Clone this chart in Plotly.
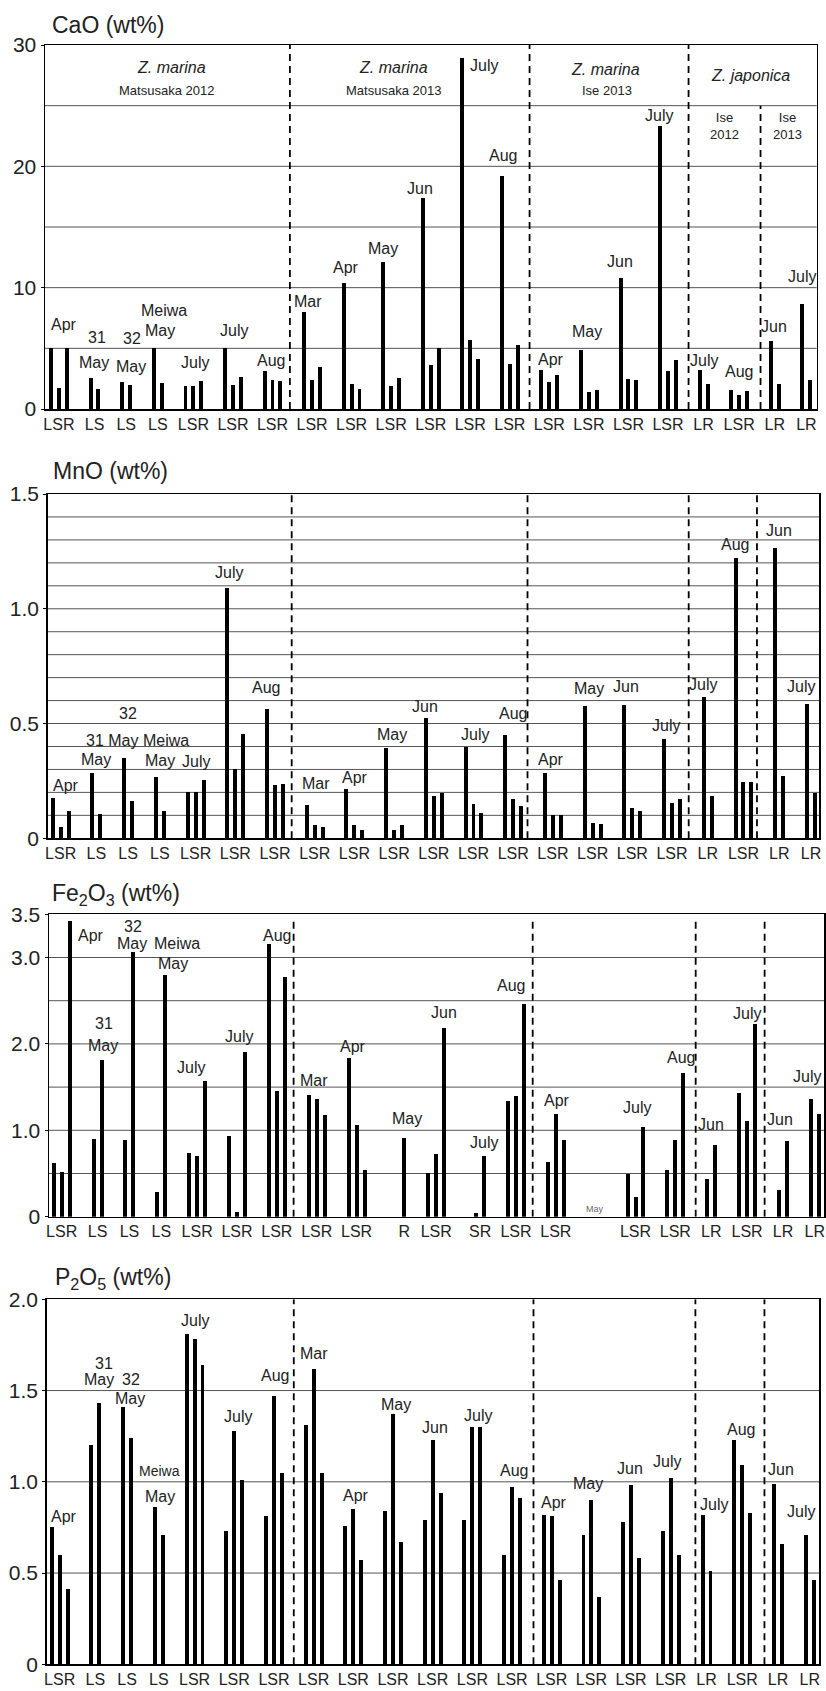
import plotly.graph_objects as go

W, H = 826, 1691
FONT = "Liberation Sans"
TXT = "#222222"

# ---------------- data ----------------
# sample groups: which tissue parts (L=leaf, S=stem, R=root) each group contains
group_parts = ["LSR", "LS", "LS", "LS", "LSR", "LSR", "LSR",
               "LSR", "LSR", "LSR", "LSR", "LSR", "LSR",
               "LSR", "LSR", "LSR", "LSR",
               "LR", "LSR", "LR", "LR"]

cao_L = [5.0, 2.58, 2.23, 5.0, 1.9, 5.0, 3.13, 8.0, 10.4, 12.1, 17.4, 28.9, 19.2,
         3.2, 4.86, 10.8, 23.3, 3.2, 1.57, 5.6, 8.66]
cao_S = [1.75, 1.67, 1.98, 2.14, 1.9, 1.98, 2.39, 2.39, 2.06, 1.9, 3.63, 5.7, 3.7,
         2.23, 1.4, 2.47, 3.13, None, 1.15, None, None]
cao_R = [5.0, None, None, None, 2.3, 2.64, 2.3, 3.46, 1.65, 2.55, 5.0, 4.1, 5.27,
         2.8, 1.57, 2.39, 4.04, 2.06, 1.48, 2.06, 2.39]

mno_L = [0.177, 0.285, 0.350, 0.267, 0.200, 1.089, 0.563, 0.145, 0.215, 0.393, 0.524,
         0.399, 0.450, 0.285, 0.576, 0.581, 0.433, 0.616, 1.221, 1.265, 0.585]
mno_S = [0.051, 0.106, 0.164, 0.119, 0.200, 0.300, 0.232, 0.058, 0.058, 0.036, 0.184,
         0.150, 0.171, 0.102, 0.067, 0.132, 0.154, None, 0.245, None, None]
mno_R = [0.119, None, None, None, 0.254, 0.454, 0.237, 0.051, 0.036, 0.058, 0.199,
         0.110, 0.141, 0.102, 0.062, 0.119, 0.171, 0.184, 0.245, 0.272, 0.199]

fe_L = [0.62, 0.90, 0.89, 0.29, 0.74, 0.93, 3.16, 1.41, 1.84, None, 0.51, None, 1.34,
        0.63, None, 0.49, 0.54, 0.44, 1.43, 0.31, 1.36]
fe_S = [0.52, 1.81, 3.06, 2.80, 0.70, 0.05, 1.46, 1.36, 1.06, None, 0.73, 0.04, 1.40,
        1.19, None, 0.23, 0.89, None, 1.11, None, None]
fe_R = [3.42, None, None, None, 1.57, 1.91, 2.78, 1.18, 0.54, 0.91, 2.18, 0.70, 2.46,
        0.89, None, 1.04, 1.66, 0.83, 2.23, 0.88, 1.19]

p_L = [0.75, 1.20, 1.41, 0.86, 1.81, 0.73, 0.81, 1.31, 0.76, 0.84, 0.79, 0.79, 0.60,
       0.82, 0.71, 0.78, 0.73, 0.82, 1.23, 0.99, 0.71]
p_S = [0.60, 1.43, 1.24, 0.71, 1.78, 1.28, 1.47, 1.62, 0.85, 1.37, 1.23, 1.30, 0.97,
       0.81, 0.90, 0.98, 1.02, None, 1.09, None, None]
p_R = [0.41, None, None, None, 1.64, 1.01, 1.05, 1.05, 0.57, 0.67, 0.94, 1.30, 0.91,
       0.46, 0.37, 0.58, 0.60, 0.51, 0.83, 0.66, 0.46]

# x-axis part labels (Fe2O3 differs where samples are missing)
std_labels = list(group_parts)
fe_labels = list(group_parts)
fe_labels[9] = "R"
fe_labels[11] = "SR"
fe_labels[14] = ""

# month labels: (text, x in slot units, y in data units)
cao_months = [("Apr", 1.64, 7.0), ("31", 5.82, 5.93), ("May", 5.44, 3.87),
              ("32", 10.24, 5.77), ("May", 10.05, 3.54), ("Meiwa", 14.29, 8.08),
              ("May", 13.78, 6.51), ("July", 18.2, 3.87), ("July", 23.14, 6.43),
              ("Aug", 27.81, 3.96), ("Mar", 32.49, 8.82), ("Apr", 37.23, 11.70),
              ("May", 41.97, 13.19), ("Jun", 46.69, 18.21), ("July", 54.74, 28.35),
              ("Aug", 57.14, 20.93), ("Apr", 63.21, 4.04), ("May", 67.76, 6.35),
              ("Jun", 71.9, 12.12), ("July", 76.86, 24.15), ("July", 82.55, 3.96),
              ("Aug", 86.98, 3.05), ("Jun", 91.4, 6.76), ("July", 94.94, 10.96)]
mno_months = [("Apr", 1.65, 0.232), ("May", 5.43, 0.345), ("31 May", 7.43, 0.428),
              ("Meiwa", 14.27, 0.424), ("32", 9.46, 0.542), ("May", 13.51, 0.341),
              ("July", 18.05, 0.334), ("July", 22.2, 1.157), ("Aug", 26.84, 0.656),
              ("Mar", 33.2, 0.240), ("Apr", 38.07, 0.264), ("May", 42.73, 0.454),
              ("Jun", 46.93, 0.576), ("July", 53.15, 0.453), ("Aug", 57.95, 0.542),
              ("Apr", 62.73, 0.344), ("May", 67.54, 0.653), ("Jun", 72.2, 0.660),
              ("July", 77.2, 0.491), ("July", 81.84, 0.668), ("Aug", 85.97, 1.278),
              ("Jun", 91.51, 1.340), ("July", 94.24, 0.660)]
fe_months = [("Apr", 4.68, 3.253), ("32", 9.95, 3.358), ("May", 9.82, 3.157),
             ("Meiwa", 15.53, 3.157), ("May", 14.91, 2.926), ("31", 6.25, 2.231),
             ("May", 6.22, 1.980), ("July", 17.19, 1.730), ("July", 23.29, 2.084),
             ("Aug", 27.98, 3.253), ("Mar", 32.7, 1.575), ("Apr", 37.55, 1.968),
             ("May", 44.33, 1.139), ("Jun", 48.93, 2.362), ("July", 54.03, 0.857),
             ("Aug", 57.42, 2.671), ("Apr", 63.21, 1.340), ("July", 73.15, 1.267),
             ("Aug", 78.75, 1.846), ("Jun", 82.41, 1.062), ("July", 86.99, 2.355),
             ("Jun", 91.09, 1.128), ("July", 94.52, 1.621)]
p_months = [("Apr", 1.52, 0.809), ("31", 6.53, 1.649), ("May", 5.93, 1.562),
            ("32", 9.99, 1.562), ("May", 9.89, 1.458), ("May", 13.64, 0.922),
            ("July", 18.05, 1.883), ("July", 23.43, 1.357), ("Aug", 28.17, 1.580),
            ("Mar", 33.05, 1.704), ("Apr", 38.34, 0.924), ("May", 43.32, 1.421),
            ("Jun", 48.33, 1.296), ("July", 53.75, 1.362), ("Aug", 58.25, 1.061),
            ("Apr", 63.31, 0.885), ("May", 67.51, 0.992), ("Jun", 72.86, 1.074),
            ("July", 77.49, 1.110), ("July", 83.44, 0.878), ("Aug", 86.88, 1.289),
            ("Jun", 91.89, 1.068), ("July", 94.37, 0.836)]

# ---------------- layout helpers ----------------
starts = []
_s = 0
for p in group_parts:
    starts.append(_s)
    _s += len(p) + 2


def bar_xy(L, S, R):
    xs, ys = [], []
    for g, p in enumerate(group_parts):
        for c, vals in (("L", L), ("S", S), ("R", R)):
            v = vals[g]
            if c in p and v is not None:
                xs.append(starts[g] + p.index(c))
                ys.append(v)
    return xs, ys


def label_pos(labels):
    vals, texts = [], []
    for g, lab in enumerate(labels):
        if not lab:
            continue
        idx = [group_parts[g].index(c) for c in lab]
        vals.append(starts[g] + sum(idx) / len(idx))
        texts.append(lab)
    return vals, texts


def px2paper_x(px):
    return px / W


def px2paper_y(py):
    return 1 - py / H


panels = [
    dict(title="CaO (wt%)", title_px=(50, 25), vals=(cao_L, cao_S, cao_R), labels=std_labels,
         dom_x=(45, 816.7), dom_y=(45, 409), xr=(-0.76, 96.8), yr=(0, 30),
         tv=[0, 10, 20, 30], tt=["0", "10", "20", "30"],
         grid=[5, 10, 15, 20, 25], dashes=[30.2, 60.5, 80.6, 89.7], dash_top=[30, 30, 30, 25],
         months=cao_months),
    dict(title="MnO (wt%)", title_px=(51, 471), vals=(mno_L, mno_S, mno_R), labels=std_labels,
         dom_x=(47.7, 819.3), dom_y=(494, 838.3), xr=(-0.63, 96.55), yr=(0, 1.5),
         tv=[0, 0.5, 1.0, 1.5], tt=["0", "0.5", "1.0", "1.5"],
         grid=[round(0.1 * i, 1) for i in range(1, 15)], dashes=[30.1, 59.8, 80.1, 88.7],
         dash_top=[1.5] * 4, months=mno_months),
    dict(title="Fe<sub>2</sub>O<sub>3</sub> (wt%)", title_px=(50, 895), vals=(fe_L, fe_S, fe_R),
         labels=fe_labels,
         dom_x=(49, 824), dom_y=(914.3, 1216.7), xr=(-0.59, 96.65), yr=(0, 3.5),
         tv=[0, 1, 2, 3, 3.5], tt=["0", "1.0", "2.0", "3.0", "3.5"],
         grid=[0.5, 1.0, 1.5, 2.0, 2.5, 3.0], dashes=[30.1, 60.1, 80.55, 89.2],
         dash_top=[3.45] * 4, months=fe_months),
    dict(title="P<sub>2</sub>O<sub>5</sub> (wt%)", title_px=(53, 1278), vals=(p_L, p_S, p_R),
         labels=std_labels,
         dom_x=(46.7, 819.3), dom_y=(1299.3, 1664.3), xr=(-0.63, 96.71), yr=(0, 2.0),
         tv=[0, 0.5, 1.0, 1.5, 2.0], tt=["0", "0.5", "1.0", "1.5", "2.0"],
         grid=[0.5, 1.0, 1.5], dashes=[30.5, 60.7, 81.1, 89.8], dash_top=[2.0] * 4,
         months=p_months),
]

fig = go.Figure()
shapes = []
annotations = []
layout = {}

for i, pn in enumerate(panels, start=1):
    xa = "x" if i == 1 else f"x{i}"
    ya = "y" if i == 1 else f"y{i}"
    xs, ys = bar_xy(*pn["vals"])
    fig.add_trace(go.Bar(x=xs, y=ys, width=0.5, marker=dict(color="black", line=dict(width=0)),
                         xaxis=xa, yaxis=ya, showlegend=False, hoverinfo="skip"))
    tvx, ttx = label_pos(pn["labels"])
    xkey = "xaxis" if i == 1 else f"xaxis{i}"
    ykey = "yaxis" if i == 1 else f"yaxis{i}"
    layout[xkey] = dict(domain=[px2paper_x(pn["dom_x"][0]), min(1.0, px2paper_x(pn["dom_x"][1]))],
                        range=list(pn["xr"]), anchor=ya, showgrid=False, zeroline=False,
                        automargin=False, ticklabeloverflow="allow",
                        showline=True, mirror=True, linecolor="black", linewidth=1.5,
                        tickmode="array", tickvals=tvx, ticktext=ttx, ticks="",
                        tickfont=dict(family=FONT, size=16, color=TXT), fixedrange=True)
    layout[ykey] = dict(domain=[px2paper_y(pn["dom_y"][1]), px2paper_y(pn["dom_y"][0])],
                        range=list(pn["yr"]), anchor=xa, showgrid=False, zeroline=False,
                        automargin=False,
                        showline=True, mirror=True, linecolor="black", linewidth=1.5,
                        tickmode="array", tickvals=pn["tv"], ticktext=pn["tt"],
                        ticks="outside", ticklen=3, tickcolor="black",
                        tickfont=dict(family=FONT, size=21, color=TXT), fixedrange=True)
    for gv in pn["grid"]:
        shapes.append(dict(type="line", xref=f"{xa} domain", yref=ya, x0=0, x1=1, y0=gv, y1=gv,
                           line=dict(color="#555555", width=1), layer="below"))
    for dx, top in zip(pn["dashes"], pn["dash_top"]):
        shapes.append(dict(type="line", xref=xa, yref=ya, x0=dx, x1=dx, y0=0, y1=top,
                           line=dict(color="black", width=1.8, dash="7px,5px"), layer="below"))
    for txt, mx, my in pn["months"]:
        annotations.append(dict(text=txt, x=mx, y=my, xref=xa, yref=ya, showarrow=False,
                                xanchor="center", yanchor="middle",
                                font=dict(family=FONT, size=16, color=TXT)))
    annotations.append(dict(text=pn["title"], x=px2paper_x(pn["title_px"][0]),
                            y=px2paper_y(pn["title_px"][1]), xref="paper", yref="paper",
                            showarrow=False, xanchor="left", yanchor="middle",
                            font=dict(family=FONT, size=23, color=TXT)))

# CaO header band texts
header = [("<i>Z. marina</i>", 15.26, 28.13, 16), ("Matsusaka 2012", 14.63, 26.23, 13),
          ("<i>Z. marina</i>", 43.24, 28.13, 16), ("Matsusaka 2013", 43.36, 26.23, 13),
          ("<i>Z. marina</i>", 70.04, 28.02, 16), ("Ise 2013", 70.29, 26.23, 13),
          ("<i>Z. japonica</i>", 88.37, 27.45, 16),
          ("Ise<br>2012", 85.1, 23.32, 13), ("Ise<br>2013", 93.17, 23.32, 13)]
for txt, hx, hy, sz in header:
    annotations.append(dict(text=txt, x=hx, y=hy, xref="x", yref="y", showarrow=False,
                            xanchor="center", yanchor="middle",
                            font=dict(family=FONT, size=sz, color=TXT)))

# special small labels
annotations.append(dict(text="May", x=67.95, y=0.09, xref="x3", yref="y3", showarrow=False,
                        font=dict(family=FONT, size=9, color="#666666")))
annotations.append(dict(text="Meiwa", x=13.54, y=1.061, xref="x4", yref="y4", showarrow=False,
                        font=dict(family=FONT, size=14, color=TXT)))

fig.update_layout(width=W, height=H, margin=dict(l=0, r=0, t=0, b=0, autoexpand=False),
                  plot_bgcolor="white", paper_bgcolor="white", bargap=0,
                  shapes=shapes, annotations=annotations, **layout)

# remove the page's default body margin so the figure fills the window exactly
fig.write_html("out.html",
               config={"displayModeBar": False, "staticPlot": True},
               post_script="document.body.style.margin='0';document.body.style.overflow='hidden';")
